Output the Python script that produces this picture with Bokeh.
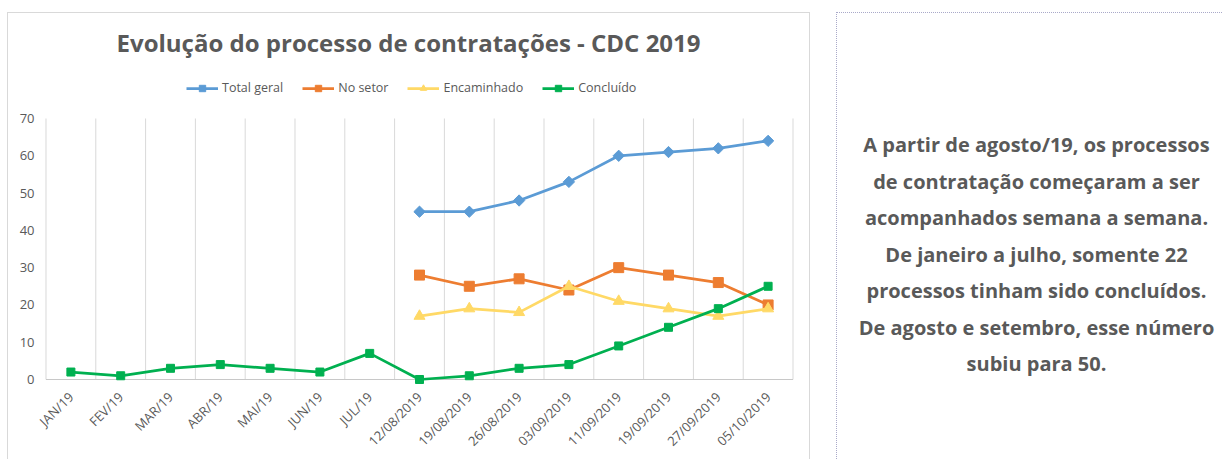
from bokeh.plotting import figure
from bokeh.layouts import row, column
from bokeh.models import Range1d, FixedTicker, Legend, LegendItem, Spacer
from bokeh.core.properties import value
from bokeh.embed import file_html
from bokeh.resources import INLINE
import math

# ---------------- data ----------------
nan = float("nan")
categories = ["JAN/19", "FEV/19", "MAR/19", "ABR/19", "MAI/19", "JUN/19", "JUL/19",
              "12/08/2019", "19/08/2019", "26/08/2019", "03/09/2019", "11/09/2019",
              "19/09/2019", "27/09/2019", "05/10/2019"]
total_geral = [nan, nan, nan, nan, nan, nan, nan, 45, 45, 48, 53, 60, 61, 62, 64]
no_setor = [nan, nan, nan, nan, nan, nan, nan, 28, 25, 27, 24, 30, 28, 26, 20]
encaminhado = [nan, nan, nan, nan, nan, nan, nan, 17, 19, 18, 25, 21, 19, 17, 19]
concluido = [2, 1, 3, 4, 3, 2, 7, 0, 1, 3, 4, 9, 14, 19, 25]
series_names = ["Total geral", "No setor", "Encaminhado", "Concluído"]
y_ticks = [0, 10, 20, 30, 40, 50, 60, 70]
title_text = "Evolução do processo de contratações - CDC 2019"
note_lines = ["A partir de agosto/19, os processos",
              "de contratação começaram a ser",
              "acompanhados semana a semana.",
              "De janeiro a julho, somente 22",
              "processos tinham sido concluídos.",
              "De agosto e setembro, esse número",
              "subiu para 50."]

# ---------------- style ----------------
FONT = "Open Sans"
TXT = "#595959"
GRID = "#D9D9D9"
colors = ["#5B9BD5", "#ED7D31", "#FFD966", "#00B050"]
markers = ["square", "square", "triangle", "square"]
msizes = [8, 10, 11, 8]
mangles = [math.pi / 4, 0, 0, 0]

H = 447
BOTTOM = 75
FRAME_H = H - BOTTOM

Y0, Y1 = -1.61, 98.16
p = figure(width=803, height=H,
           x_range=Range1d(-0.55, len(categories) - 0.45),
           y_range=Range1d(Y0, Y1),
           output_backend="svg", toolbar_location=None,
           min_border_left=35, min_border_right=16,
           min_border_top=0, min_border_bottom=BOTTOM,
           outline_line_color=None,
           styles={"border-top": "1px solid #D9D9D9",
                   "border-left": "1px solid #D9D9D9",
                   "border-right": "1px solid #D9D9D9"})
p.xgrid.visible = False
p.ygrid.visible = False

# category boundaries (vertical gridlines)
xs = list(range(len(categories)))
bounds = [i - 0.5 for i in range(len(categories) + 1)]
p.segment(x0=bounds, y0=[y_ticks[0]] * len(bounds), x1=bounds, y1=[y_ticks[-1]] * len(bounds),
          line_color=GRID, line_width=1)
p.segment(x0=[bounds[0]], y0=[0], x1=[bounds[-1]], y1=[0], line_color="#C8C8C8", line_width=1)

items = []
for name, vals, c, m, s, a in zip(series_names, [total_geral, no_setor, encaminhado, concluido],
                                  colors, markers, msizes, mangles):
    rl = p.line(xs, vals, line_color=c, line_width=2.75)
    rs = p.scatter(xs, vals, marker=m, size=s, angle=a, fill_color=c, line_color=c)
    items.append(LegendItem(label=name, renderers=[rl, rs]))

legend = Legend(items=items, orientation="horizontal", location=(143, 289),
                padding=0, margin=0, spacing=19, label_standoff=4,
                glyph_width=32, glyph_height=16, label_height=16,
                label_text_font=FONT, label_text_font_size="12.5px",
                label_text_color=TXT, border_line_color=None,
                background_fill_alpha=0)
p.add_layout(legend)

p.text(x=[6.78], y=[90.5], text=[title_text], text_font=value(FONT),
       text_font_style="bold", text_font_size="24px", text_color=TXT,
       text_align="center", text_baseline="middle")

p.xaxis.ticker = FixedTicker(ticks=xs)
p.xaxis.major_label_overrides = {i: c for i, c in enumerate(categories)}
p.xaxis.major_label_orientation = math.pi / 4
p.xaxis.major_label_text_font = FONT
p.xaxis.major_label_text_font_size = "13px"
p.xaxis.major_label_text_color = TXT
p.xaxis.major_label_standoff = 3
p.xaxis.axis_line_color = None
p.xaxis.major_tick_line_color = None
p.xaxis.minor_tick_line_color = None

p.yaxis.ticker = FixedTicker(ticks=y_ticks)
p.yaxis.major_label_text_font = FONT
p.yaxis.major_label_text_font_size = "13px"
p.yaxis.major_label_text_color = TXT
p.yaxis.major_label_standoff = 3
p.yaxis.axis_line_color = None
p.yaxis.major_tick_line_color = None
p.yaxis.minor_tick_line_color = None

# ---------------- note panel ----------------
# frame shares the chart's frame geometry (row alignment), so 1 data unit = 1 px
t = figure(width=386, height=H, x_range=Range1d(0, 386), y_range=Range1d(FRAME_H, 0),
           output_backend="svg", toolbar_location=None,
           min_border_left=0, min_border_right=0, min_border_top=0, min_border_bottom=BOTTOM,
           x_axis_type=None, y_axis_type=None, outline_line_color=None,
           styles={"border-top": "1px dotted #A9A9C9", "border-left": "1px dotted #A9A9C9"})
t.grid.visible = False
t.text(x=[199] * len(note_lines), y=[131 + 36.5 * i for i in range(len(note_lines))],
       text=note_lines, text_font=value(FONT), text_font_style="bold",
       text_font_size="20px", text_color=TXT, text_align="center", text_baseline="middle")

layout = column(Spacer(height=12), row(Spacer(width=7), p, Spacer(width=26), t))
open("out.html", "w").write(file_html(layout, INLINE))
